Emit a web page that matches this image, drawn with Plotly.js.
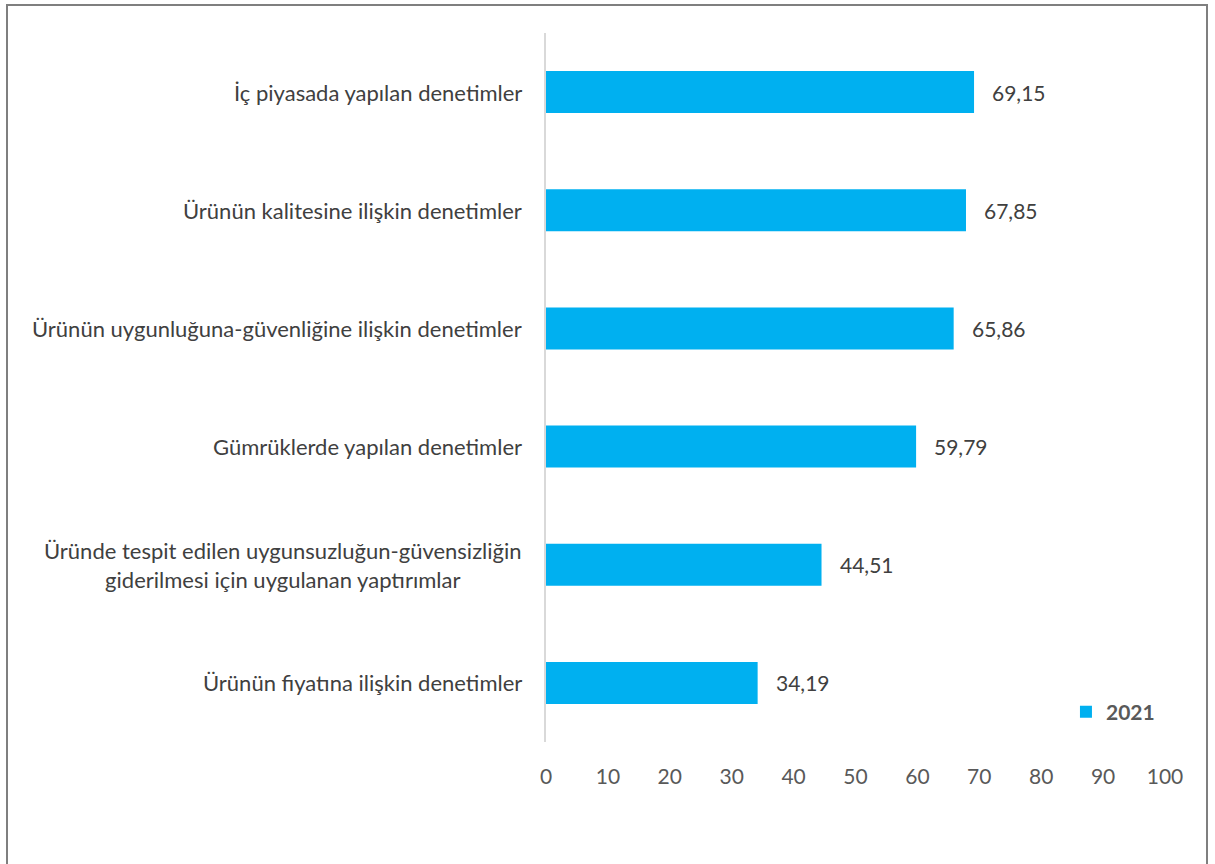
<!DOCTYPE html>
<html>
<head>
<meta charset="utf-8">
<script src="https://cdn.plot.ly/plotly-3.0.1.min.js"></script>
<style>
  html, body { margin: 0; padding: 0; background: #fff; }
  #chart { width: 1215px; height: 864px; }
  #frame { position: absolute; left: 6px; top: 4px; width: 1202px; height: 900px;
           border: 2px solid #7f7f7f; pointer-events: none; box-sizing: border-box; }
</style>
</head>
<body>
<div id="chart"></div>
<div id="frame"></div>
<script>
const categories = [
  "İç piyasada yapılan denetimler",
  "Ürünün kalitesine ilişkin denetimler",
  "Ürünün uygunluğuna-güvenliğine ilişkin denetimler",
  "Gümrüklerde yapılan denetimler",
  "Üründe tespit edilen uygunsuzluğun-güvensizliğin<br>giderilmesi için uygulanan yaptırımlar",
  "Ürünün fiyatına ilişkin denetimler"
];
const values2021 = [69.15, 67.85, 65.86, 59.79, 44.51, 34.19];
const seriesName = "2021";
const xTicks = [0, 10, 20, 30, 40, 50, 60, 70, 80, 90, 100];

const FONT = "Lato, 'Open Sans', sans-serif";

const trace = {
  type: "bar",
  orientation: "h",
  x: values2021,
  y: categories,
  name: "<b>" + seriesName + "</b>",
  marker: { color: "#00b0f0" },
  width: 0.355,
  hoverinfo: "skip"
};

const annotations = [];
categories.forEach((c, i) => {
  annotations.push({
    xref: "paper", yref: "y", x: 0, y: c,
    xanchor: "right", yanchor: "middle", xshift: -22,
    text: c, showarrow: false, align: "center",
    font: { family: FONT, size: 22, color: "#404040" }
  });
  annotations.push({
    xref: "x", yref: "y", x: values2021[i], y: c,
    xanchor: "left", yanchor: "middle", xshift: 16,
    text: values2021[i].toFixed(2).replace(".", ","), showarrow: false,
    font: { family: FONT, size: 21, color: "#404040" }
  });
});

const layout = {
  width: 1215, height: 864,
  margin: { l: 546, r: 50, t: 33, b: 122 },
  paper_bgcolor: "#fff", plot_bgcolor: "#fff",
  showlegend: true,
  legend: {
    x: 0.84, y: 0.042, xanchor: "left", yanchor: "middle",
    font: { family: FONT, size: 21, color: "#595959" },
    itemwidth: 30
  },
  xaxis: {
    range: [0, 100], tickvals: xTicks, ticktext: xTicks.map(String),
    showgrid: false, zeroline: false, showline: false,
    ticks: "", ticklabelstandoff: 20,
    tickfont: { family: FONT, size: 21, color: "#595959" }
  },
  yaxis: {
    autorange: "reversed", showticklabels: false,
    showgrid: false, zeroline: false,
    showline: true, linecolor: "#d9d9d9", linewidth: 2, ticks: ""
  },
  annotations: annotations
};

Plotly.newPlot("chart", [trace], layout, { displayModeBar: false, staticPlot: true });
</script>
</body>
</html>
